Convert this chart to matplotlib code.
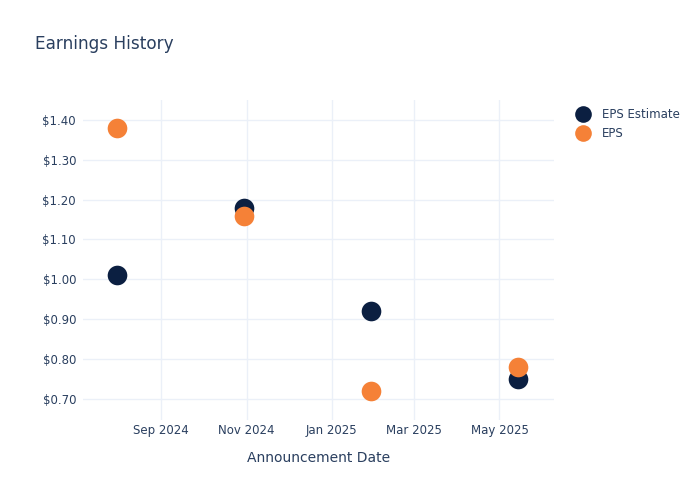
import matplotlib
matplotlib.use("Agg")
import matplotlib.pyplot as plt
import matplotlib.dates as mdates
from matplotlib.lines import Line2D
import numpy as np

dates = np.array(["2024-07-31", "2024-10-30", "2025-01-29", "2025-05-14"], dtype="datetime64[D]")
eps_estimate = [1.01, 1.18, 0.92, 0.75]
eps_actual = [1.38, 1.16, 0.72, 0.78]
series_names = ["EPS Estimate", "EPS"]
series_colors = ["#0b1f41", "#f58137"]

text_color = "#2a3f5f"
grid_color = "#ebf0f8"

fig = plt.figure(figsize=(7, 5), dpi=100)
ax = fig.add_axes([83 / 700, 80 / 500, (554 - 83) / 700, (420 - 100) / 500])

for vals, color in zip([eps_estimate, eps_actual], series_colors):
    ax.scatter(dates, vals, s=200, color=color, zorder=3, linewidths=0)

ax.set_xlim(np.datetime64("2024-07-07"), np.datetime64("2025-06-09"))
ax.set_ylim(0.647, 1.45)

ax.xaxis.set_major_locator(mdates.MonthLocator(bymonth=[1, 3, 5, 7, 9, 11]))
ax.xaxis.set_major_formatter(mdates.DateFormatter("%b %Y"))
ax.set_yticks(np.arange(0.7, 1.41, 0.1))
ax.yaxis.set_major_formatter(plt.FuncFormatter(lambda v, p: f"${v:.2f}"))

ax.grid(True, color=grid_color, linewidth=1, zorder=0)
ax.set_axisbelow(True)
for s in ax.spines.values():
    s.set_visible(False)
ax.tick_params(axis="both", length=0, labelsize=8.5, colors=text_color)
ax.tick_params(axis="x", pad=3)
ax.tick_params(axis="y", pad=5)

ax.set_xlabel("Announcement Date", fontsize=10, color=text_color, labelpad=10)

fig.text(35 / 700, 1 - 44 / 500, "Earnings History", fontsize=12.2,
         color=text_color, va="center", ha="left")

handles = [Line2D([0], [0], marker="o", linestyle="", markersize=12,
                  markerfacecolor=c, markeredgewidth=0, label=n)
           for n, c in zip(series_names, series_colors)]
leg = fig.legend(handles=handles, loc="upper left", bbox_to_anchor=(569 / 700, 1 - 103 / 500),
                 frameon=False, fontsize=8.5, handletextpad=0.9, labelspacing=0.55,
                 borderaxespad=0, handlelength=1.5)
for t in leg.get_texts():
    t.set_color(text_color)

fig.savefig("out.png", dpi=100)
